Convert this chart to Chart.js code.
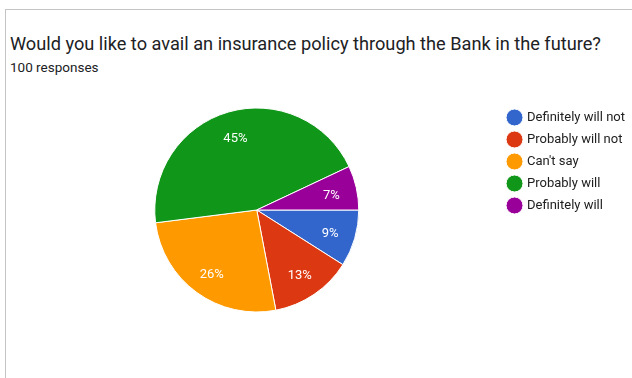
<!doctype html>
<html lang="en">
<head>
<meta charset="utf-8">
<title>Insurance policy survey</title>
<script src="https://cdn.jsdelivr.net/npm/chart.js@4/dist/chart.umd.min.js"></script>
<style>
    html, body { margin: 0; padding: 0; background: #fff; overflow: hidden; }
    body { width: 632px; height: 378px; position: relative; font-family: Roboto, Arial, sans-serif; }
    .card {
        position: absolute; left: 5px; top: 9px; width: 640px; height: 380px;
        border-top: 1px solid #c4c4c4; border-left: 1px solid #c4c4c4;
    }
    .question {
        position: absolute; left: 10px; top: 35px; font-size: 18.2px; line-height: 18px;
        color: #202124; white-space: nowrap;
    }
    .count {
        position: absolute; left: 10px; top: 61px; font-size: 13.5px; line-height: 13.5px;
        color: #202124; white-space: nowrap;
    }
    .chart-box { position: absolute; left: 14px; top: 102px; width: 621px; height: 216px; }
</style>
</head>
<body>
<div class="card"></div>
<div class="question">Would you like to avail an insurance policy through the Bank in the future?</div>
<div class="count">100 responses</div>
<div class="chart-box"><canvas id="chart"></canvas></div>

<script>
// answer options and number of responses (out of 100)
var answers = ['Definitely will not', 'Probably will not', "Can't say", 'Probably will', 'Definitely will'];
var responses = [9, 13, 26, 45, 7];
var sliceColors = ['#3366cc', '#dc3912', '#ff9900', '#109618', '#990099'];

// writes the percentage inside each slice
var percentLabels = {
    id: 'percentLabels',
    afterDatasetsDraw: function(chart) {
        var ctx = chart.ctx;
        var meta = chart.getDatasetMeta(0);
        var total = responses.reduce(function(a, b) { return a + b; }, 0);
        ctx.save();
        ctx.fillStyle = '#fff';
        ctx.font = '13px Roboto, Arial, sans-serif';
        ctx.textAlign = 'center';
        ctx.textBaseline = 'middle';
        meta.data.forEach(function(arc, i) {
            var p = arc.getProps(['x', 'y', 'startAngle', 'endAngle', 'outerRadius'], true);
            var mid = (p.startAngle + p.endAngle) / 2;
            var r = p.outerRadius * 0.75;
            var pct = Math.round(responses[i] / total * 100) + '%';
            ctx.fillText(pct, p.x + Math.cos(mid) * r, p.y + Math.sin(mid) * r + 2.5);
        });
        ctx.restore();
    }
};

new Chart(document.getElementById('chart'), {
    type: 'pie',
    data: {
        labels: answers,
        datasets: [{
            data: responses,
            backgroundColor: sliceColors,
            borderColor: '#fff',
            borderWidth: 1,
            radius: 102
        }]
    },
    options: {
        responsive: true,
        maintainAspectRatio: false,
        animation: false,
        rotation: 90,
        plugins: {
            tooltip: { enabled: false },
            legend: {
                position: 'right',
                align: 'start',
                labels: {
                    usePointStyle: true,
                    pointStyle: 'circle',
                    boxWidth: 12,
                    boxHeight: 12,
                    padding: 9,
                    color: '#212121',
                    font: { family: 'Roboto, Arial, sans-serif', size: 13 }
                }
            }
        }
    },
    plugins: [percentLabels]
});
</script>
</body>
</html>
